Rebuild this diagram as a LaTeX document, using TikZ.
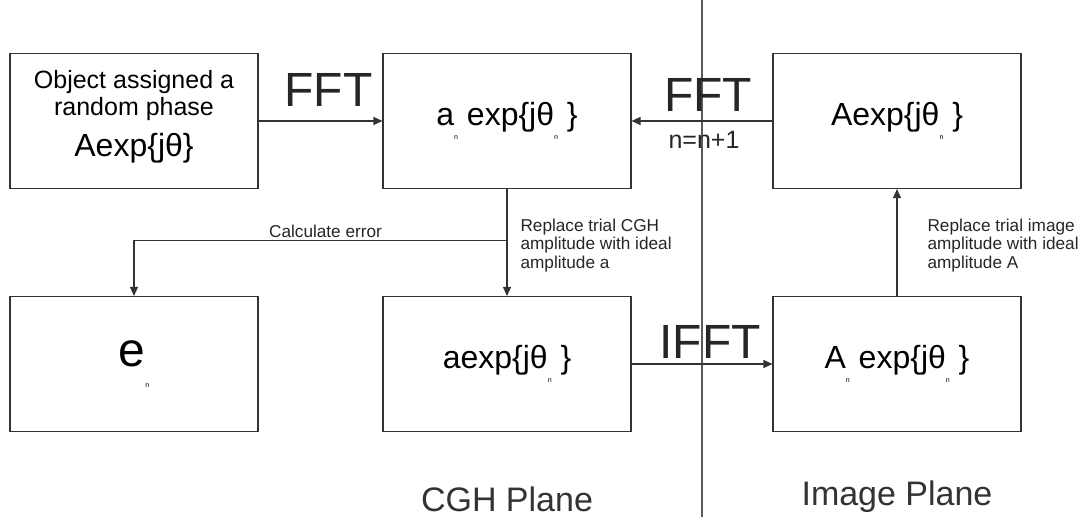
\documentclass[tikz,border=0pt]{standalone}
\usepackage{fontspec}
\setmainfont{Liberation Sans}
\usetikzlibrary{positioning,arrows.meta,calc}

% tiny lowered index used in the box formulas
\newcommand{\lown}{\raisebox{-0.45em}{\fontsize{3.5}{3.5}\selectfont n}}

\begin{document}
\begin{tikzpicture}[>={Triangle[length=4.5pt,width=4pt]},node distance=121.5pt and 186.5pt,on grid,
  block/.style={draw=black!80,line width=0.55pt,minimum width=124pt,minimum height=67.5pt,
    inner sep=0pt,font=\fontsize{16}{20}\selectfont},
  conn/.style={->,draw=black!80,line width=0.55pt},
  big/.style={font=\fontsize{24}{24}\selectfont,inner sep=1.5pt,text=black!85},
  note/.style={font=\fontsize{8.6}{9.3}\selectfont,align=left,inner sep=1pt,text=black!85},
  plane/.style={font=\fontsize{17}{17}\selectfont,text=black!80}]
  \useasboundingbox (-67pt,60.5pt) rectangle (479pt,-198pt);

  \node[block,align=center,font=\fontsize{12.5}{13.5}\selectfont] (obj)
    {Object assigned a\\random phase\\[5pt]{\fontsize{16}{16}\selectfont Aexp\{jθ\}}\\[-10pt]\strut};
  \node[block] (trial) [right=of obj] {a\lown\ exp\{jθ\lown\ \}};
  \node[block] (imga) [right=195pt of trial] {Aexp\{jθ\lown\ \}};
  \node[block] (err) [below=of obj] {\fontsize{24}{24}\selectfont e\lown};
  \node[block] (cgh) [below=of trial] {aexp\{jθ\lown\ \}};
  \node[block] (imgb) [below=of imga] {A\lown\ exp\{jθ\lown\ \}};

  % divider between the two planes
  \coordinate (mid) at ($(trial)!0.5!(imga)$);
  \draw[draw=black!65,line width=0.75pt] (mid |- 0,60.5pt) -- (mid |- 0,-198pt);
  \node[plane] (cghlbl) at (cgh |- 0,-189pt) {CGH Plane};
  \node[plane] (imglbl) at (imgb |- 0,-188pt) {Image Plane};

  \draw[conn] (obj) -- node[big,above=5.5pt,xshift=4pt] (fft1) {FFT} (trial);
  \draw[conn] (imga) -- node[big,above=3pt,xshift=3pt] (fft2) {FFT}
    node[below=1.5pt,xshift=1pt,font=\fontsize{12.5}{12.5}\selectfont,text=black!85] (loop) {n=n+1} (trial);
  \draw[conn] (cgh) -- node[big,above=1pt,xshift=4pt] (ifft) {IFFT} (imgb);

  \path (trial.south) -- coordinate[pos=0.48] (split) (cgh.north);
  \draw[conn] (trial) -- node[note,right=5.5pt,yshift=-1.5pt] (cghnote)
    {Replace trial CGH\\amplitude with ideal\\amplitude a} (cgh);
  \draw[conn] (split) -| node[note,above=0pt,pos=0.25,xshift=2.5pt] (errnote) {Calculate error} (err.north);
  \draw[conn] (imgb) -- node[note,right=14pt,yshift=-1.5pt] (imgnote)
    {Replace trial image\\amplitude with ideal\\amplitude A} (imga);
\end{tikzpicture}
\end{document}
